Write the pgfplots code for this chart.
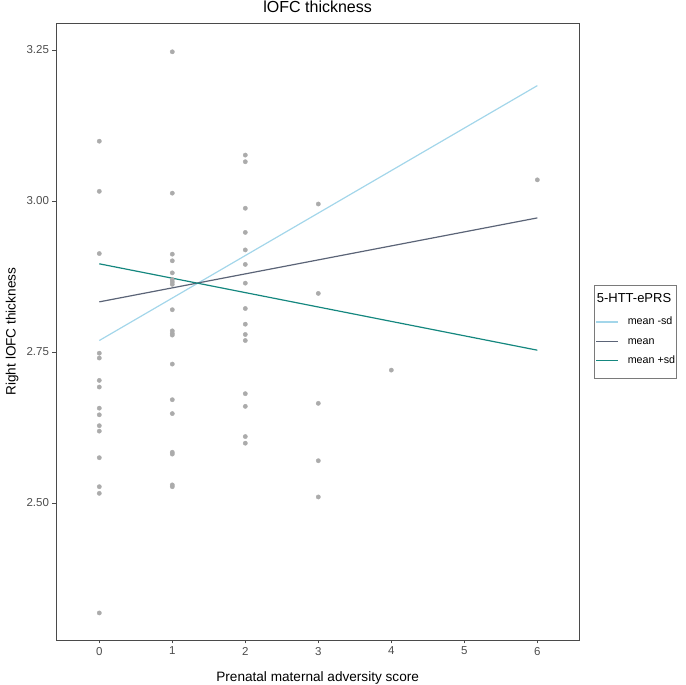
\documentclass[border=0pt]{standalone}
\usepackage{fontspec}
\setmainfont{Liberation Sans}
\usepackage{pgfplots}
\pgfplotsset{compat=1.18}
\definecolor{ptgray}{HTML}{ABABAB}
\definecolor{framegray}{HTML}{4A4A4A}
\definecolor{ticklab}{HTML}{4D4D4D}
\definecolor{lblue}{HTML}{A3D6EA}
\definecolor{slate}{HTML}{5B6477}
\definecolor{tealc}{HTML}{15877F}
\definecolor{legendgray}{HTML}{7A7A7A}
\begin{document}
\begin{tikzpicture}[x=1pt,y=1pt]
\useasboundingbox (-56,-45) rectangle (630,640);
\begin{axis}[
  at={(0,0)}, anchor=south west,
  scale only axis, width=523.3pt, height=616.7pt,
  xmin=-0.593, xmax=6.575, ymin=2.2732, ymax=3.2942,
  xtick={0,1,2,3,4,5,6}, ytick={2.5,2.75,3,3.25},
  axis line style={draw=framegray, line width=0.9pt},
  tick align=outside, major tick length=3.5pt,
  tick style={draw=framegray, line width=0.9pt},
  xtick pos=lower, ytick pos=left,
  /pgf/number format/assume math mode=true,
  ticklabel style={font=\fontsize{11.5}{13}\selectfont, text=ticklab},
  yticklabel style={/pgf/number format/.cd, fixed, fixed zerofill, precision=2},
  every axis title shift=0pt,
  title={lOFC thickness},
  title style={font=\fontsize{16}{19}\selectfont, at={(axis description cs:0.5,1.0178)}, anchor=base},
  xlabel={Prenatal maternal adversity score},
  ylabel={Right lOFC thickness},
  xlabel style={font=\fontsize{13.6}{16}\selectfont, at={(axis description cs:0.5,-0.0681)}, anchor=base},
  ylabel style={font=\fontsize{13.6}{16}\selectfont, at={(axis description cs:-0.0841,0.5)}, anchor=center, rotate=0},
  legend style={at={(axis description cs:1.0287,0.5757)}, anchor=north west,
    draw=legendgray, line width=0.6pt, fill=white,
    inner xsep=1pt, inner ysep=12.5pt,
    font=\fontsize{10.7}{12.8}\selectfont, row sep=9.3pt,
    nodes={inner sep=0pt, text height=7.7pt, text depth=2.3pt},
    /tikz/every odd column/.append style={column sep=9pt}},
  legend cell align=left,
  legend image code/.code={\path (0pt,0pt) -- (22pt,0pt); \draw[#1, line width=1.2pt] (8pt,0pt) -- (22pt,0pt);},
]
\addlegendimage{empty legend}
\addlegendentry{\hspace*{-31pt}\raisebox{3pt}{\fontsize{13}{15}\selectfont 5-HTT-ePRS}}
\addplot[only marks, mark=*, mark size=2.15pt, color=ptgray, forget plot] coordinates {
(0,3.099) (0,3.016) (0,2.913) (0,2.748) (0,2.740) (0,2.703) (0,2.692) (0,2.657)
(0,2.646) (0,2.628) (0,2.619) (0,2.575) (0,2.527) (0,2.516) (0,2.318)
(1,3.247) (1,3.013) (1,2.912) (1,2.901) (1,2.881) (1,2.870) (1,2.866) (1,2.862)
(1,2.820) (1,2.785) (1,2.781) (1,2.778) (1,2.730) (1,2.671) (1,2.648) (1,2.584)
(1,2.581) (1,2.530) (1,2.527)
(2,3.076) (2,3.065) (2,2.988) (2,2.948) (2,2.919) (2,2.895) (2,2.864) (2,2.822)
(2,2.796) (2,2.779) (2,2.769) (2,2.681) (2,2.660) (2,2.610) (2,2.599)
(3,2.995) (3,2.847) (3,2.665) (3,2.570) (3,2.510)
(4,2.720)
(6,3.035)
};
\addplot[color=lblue, line width=1.2pt] coordinates {(0,2.769) (6,3.191)};
\addlegendentry{mean -sd}
\addplot[color=slate, line width=1.2pt] coordinates {(0,2.833) (6,2.972)};
\addlegendentry{mean}
\addplot[color=tealc, line width=1.2pt] coordinates {(0,2.896) (6,2.753)};
\addlegendentry{mean +sd}
\end{axis}
\end{tikzpicture}
\end{document}
